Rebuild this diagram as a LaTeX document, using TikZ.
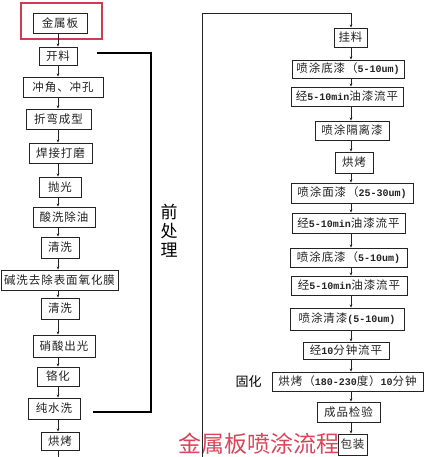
\documentclass[tikz,border=0pt]{standalone}
\usepackage{fontspec}
\setmainfont{Noto Sans CJK SC}
\newfontfamily\boxfont{Noto Sans CJK SC}[LetterSpace=8]
\newfontfamily\monofam{Liberation Mono}
\usetikzlibrary{arrows.meta}
\definecolor{ink}{RGB}{35,35,35}
\definecolor{redline}{RGB}{205,60,80}
\definecolor{titlered}{RGB}{215,70,90}
\newcommand{\latn}[1]{{\monofam\bfseries\fontsize{10}{10}\selectfont #1}}
\begin{document}
\begin{tikzpicture}[x=1pt,y=-1pt,
  box/.style={draw=ink, line width=0.8pt, inner sep=0pt, font=\boxfont\fontsize{11.5}{12}\selectfont, text=ink},
  arr/.style={draw=ink, line width=0.6pt, -{Stealth[length=3.2pt,width=2.6pt]}},
  ln/.style={draw=ink, line width=0.6pt},
  bracket/.style={draw=black, line width=1.6pt},
  hilite/.style={draw=redline, line width=1.5pt, inner sep=0pt}]
\useasboundingbox (0,0) rectangle (432,457);
\fill[white] (0,0) rectangle (432,457);

% left column
\node[hilite, minimum width=81pt, minimum height=36pt] (hl) at (61.5,21) {};
\node[box, minimum width=54pt, minimum height=20pt] (l1) at (60,23) {金属板};
\node[box, minimum width=38pt, minimum height=18pt] (l2) at (58,56) {开料};
\node[box, minimum width=80pt, minimum height=20pt] (l3) at (63,87) {冲角、冲孔};
\node[box, minimum width=65pt, minimum height=20pt] (l4) at (58.5,119) {折弯成型};
\node[box, minimum width=63pt, minimum height=20pt] (l5) at (60.5,153) {焊接打磨};
\node[box, minimum width=42pt, minimum height=20pt] (l6) at (60,187) {抛光};
\node[box, minimum width=62pt, minimum height=20pt] (l7) at (64,217) {酸洗除油};
\node[box, minimum width=38pt, minimum height=21pt] (l8) at (60,247.5) {清洗};
\node[box, minimum width=117pt, minimum height=20pt] (l9) at (59.5,280) {碱洗去除表面氧化膜};
\node[box, minimum width=38pt, minimum height=21pt] (l10) at (60,308.5) {清洗};
\node[box, minimum width=62pt, minimum height=22pt] (l11) at (64,346) {硝酸出光};
\node[box, minimum width=42pt, minimum height=19pt] (l12) at (58,376.5) {铬化};
\node[box, minimum width=52pt, minimum height=21pt] (l13) at (54,408.5) {纯水洗};
\node[box, minimum width=38pt, minimum height=18pt] (l14) at (60,441) {烘烤};

\coordinate (ax) at (58,0);
\foreach \a/\b in {l1/l2,l2/l3,l3/l4,l4/l5,l5/l6,l6/l7,l7/l8,l8/l9,l9/l10,l10/l11,l11/l12,l12/l13,l13/l14}
  \draw[arr] (\a.south -| ax) -- (\b.north -| ax);
\coordinate (lend) at (58,462);
\draw[ln] (l14.south -| ax) -- (lend);

% bracket
\coordinate (bt1) at (97,53);
\coordinate (bt2) at (151,53);
\coordinate (bb2) at (151,412);
\coordinate (bb1) at (93,412);
\draw[bracket] (bt1) -- (bt2) -- (bb2) -- (bb1);
\node[font=\fontsize{17}{19}\selectfont, align=center, inner sep=0pt] (pre) at (169,231) {前\\处\\理};

% right column
\node[box, minimum width=33pt, minimum height=19pt] (r1) at (350.5,37.5) {挂料};
\node[box, minimum width=112pt, minimum height=18pt] (r2) at (348,69) {喷涂底漆（\latn{5-10um)}};
\node[box, minimum width=112pt, minimum height=19pt] (r3) at (347,96.5) {经\latn{5-10min}油漆流平};
\node[box, minimum width=74pt, minimum height=19pt] (r4) at (352,130.5) {喷涂隔离漆};
\node[box, minimum width=38pt, minimum height=21pt] (r5) at (354,162.5) {烘烤};
\node[box, minimum width=122pt, minimum height=20pt] (r6) at (352,193) {喷涂面漆（\latn{25-30um)}};
\node[box, minimum width=113pt, minimum height=20pt] (r7) at (348.5,223) {经\latn{5-10min}油漆流平};
\node[box, minimum width=117pt, minimum height=19pt] (r8) at (348.5,257.5) {喷涂底漆（\latn{5-10um)}};
\node[box, minimum width=116pt, minimum height=19pt] (r9) at (349,285.5) {经\latn{5-10min}油漆流平};
\node[box, minimum width=114pt, minimum height=22pt] (r10) at (347,319) {喷涂清漆\latn{(5-10um)}};
\node[box, minimum width=86pt, minimum height=17pt] (r11) at (346,350.5) {经\latn{10}分钟流平};
\node[box, minimum width=151pt, minimum height=19pt] (r12) at (347.5,381.5) {烘烤（\latn{180-230}度）\latn{10}分钟};
\node[box, minimum width=63pt, minimum height=20pt] (r13) at (348.5,412) {成品检验};
\node[box, minimum width=29pt, minimum height=21pt] (r14) at (352.5,444.5) {包装};

\coordinate (rx) at (351,0);
\foreach \a/\b in {r1/r2,r2/r3,r3/r4,r4/r5,r5/r6,r6/r7,r7/r8,r8/r9,r9/r10,r10/r11,r11/r12,r12/r13,r13/r14}
  \draw[arr] (\a.south -| rx) -- (\b.north -| rx);

\node[font=\fontsize{13}{13}\selectfont, text=black, inner sep=0pt] (gh) at (248.5,382) {固化};

% title
\node[font=\fontsize{23}{23}\selectfont, text=titlered, inner sep=0pt] (title) at (259,444) {金属板喷涂流程};

% loop connector from left column to right column
\coordinate (jb) at (202,462);
\coordinate (jt) at (202,13);
\draw[arr] (jb) -- (jt) -| (r1.north -| rx);
\end{tikzpicture}
\end{document}
